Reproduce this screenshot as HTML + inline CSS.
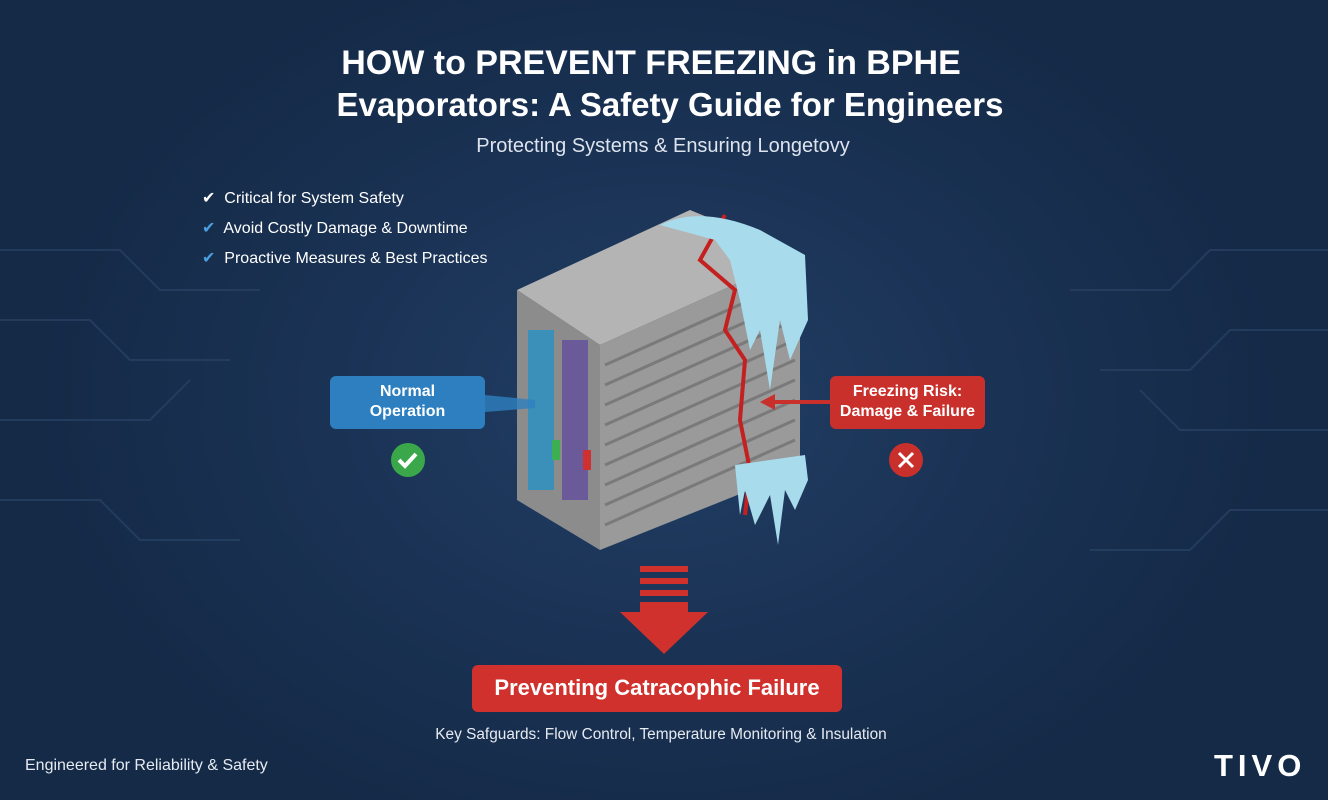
<!DOCTYPE html>
<html><head><meta charset="utf-8"><style>
body{margin:0;width:1328px;height:800px;overflow:hidden;font-family:"Liberation Sans",sans-serif;color:#fff;
background:radial-gradient(ellipse 620px 460px at 660px 400px,#223f66 0%,#1a3254 55%,#142a47 100%);position:relative}
.a{position:absolute;white-space:nowrap}
</style></head><body>
<svg class="a" style="left:0;top:0" width="1328" height="800">
<g stroke="#2a4466" stroke-width="2" fill="none" opacity=".7">
<path d="M0 250 H120 L160 290 H260"/><path d="M0 320 H90 L130 360 H230"/><path d="M0 420 H150 L190 380"/><path d="M0 500 H100 L140 540 H240"/>
<path d="M1328 250 H1210 L1170 290 H1070"/><path d="M1328 330 H1230 L1190 370 H1100"/><path d="M1328 430 H1180 L1140 390"/><path d="M1328 510 H1230 L1190 550 H1090"/>
</g>
<polygon points="600,345 800,255 800,470 600,550" fill="#9a9a9a"/>
<g stroke="#7a7a7a" stroke-width="3">
<line x1="605" y1="365" x2="795" y2="280"/><line x1="605" y1="385" x2="795" y2="300"/><line x1="605" y1="405" x2="795" y2="320"/><line x1="605" y1="425" x2="795" y2="340"/><line x1="605" y1="445" x2="795" y2="360"/><line x1="605" y1="465" x2="795" y2="380"/><line x1="605" y1="485" x2="795" y2="400"/><line x1="605" y1="505" x2="795" y2="420"/><line x1="605" y1="525" x2="795" y2="440"/>
</g>
<polygon points="517,290 690,210 800,255 600,345" fill="#b4b4b4"/>
<polygon points="517,290 600,345 600,550 517,500" fill="#8c8c8c"/>
<rect x="528" y="330" width="26" height="160" fill="#3a90b8"/>
<rect x="562" y="340" width="26" height="160" fill="#6a5a9a"/>
<rect x="552" y="440" width="8" height="20" fill="#3cb050"/><rect x="583" y="450" width="8" height="20" fill="#d03030"/>
<path d="M725 215 L700 260 L735 290 L725 330 L745 360 L740 420 L750 470 L745 515" stroke="#c42020" stroke-width="4" fill="none"/>
<path d="M660 225 Q700 205 760 230 L805 255 L808 320 L790 360 L780 320 L770 390 L760 330 L750 350 L740 300 L730 260 L715 240 Z" fill="#a8dced"/>
<path d="M735 465 L805 455 L808 480 L795 510 L785 490 L778 545 L770 495 L755 525 L745 490 L740 515 Z" fill="#a8dced"/>
<rect x="330" y="376" width="155" height="53" rx="6" fill="#2e7fbf"/>
<polygon points="485,395 535,400 535,408 485,412" fill="#2e7fbf" opacity=".8"/>
<circle cx="408" cy="460" r="17" fill="#3aa84a"/><path d="M399 460 l6 6 l11 -12" stroke="#fff" stroke-width="4" fill="none"/>
<rect x="830" y="376" width="155" height="53" rx="6" fill="#c9302c"/>
<path d="M830 402 H770" stroke="#c9302c" stroke-width="4"/><polygon points="760,402 775,394 775,410" fill="#c9302c"/>
<circle cx="906" cy="460" r="17" fill="#c9302c"/><path d="M899 453 l14 14 M913 453 l-14 14" stroke="#fff" stroke-width="3"/>
<rect x="640" y="566" width="48" height="6" fill="#d0312d"/><rect x="640" y="578" width="48" height="6" fill="#d0312d"/><rect x="640" y="590" width="48" height="6" fill="#d0312d"/>
<polygon points="640,602 688,602 688,612 708,612 664,654 620,612 640,612" fill="#d0312d"/>
<rect x="472" y="665" width="370" height="47" rx="6" fill="#d0312d"/>
</svg>
<div class="a" style="left:0;width:1302px;text-align:center;top:44px;font-size:34px;font-weight:bold">HOW to PREVENT FREEZING in BPHE</div>
<div class="a" style="left:0;width:1340px;text-align:center;top:86px;font-size:33px;font-weight:bold">Evaporators: A Safety Guide for Engineers</div>
<div class="a" style="left:0;width:1326px;text-align:center;top:135px;font-size:20px;color:#dde4ee">Protecting Systems &amp; Ensuring Longetovy</div>
<div class="a" style="left:202px;top:184px;font-size:16px;line-height:30px"><span style="color:#fff">✔</span>&nbsp; Critical for System Safety<br><span style="color:#4aa0e0">✔</span>&nbsp; Avoid Costly Damage &amp; Downtime<br><span style="color:#4aa0e0">✔</span>&nbsp; Proactive Measures &amp; Best Practices</div>
<div class="a" style="left:330px;width:155px;top:382px;text-align:center;font-size:16px;font-weight:bold;line-height:20px">Normal<br>Operation</div>
<div class="a" style="left:830px;width:155px;top:382px;text-align:center;font-size:16px;font-weight:bold;line-height:20px">Freezing Risk:<br>Damage &amp; Failure</div>
<div class="a" style="left:472px;width:370px;top:675px;text-align:center;font-size:22px;font-weight:bold">Preventing Catracophic Failure</div>
<div class="a" style="left:0;width:1322px;top:726px;text-align:center;font-size:15.4px;color:#e6ebf2">Key Safguards: Flow Control, Temperature Monitoring &amp; Insulation</div>
<div class="a" style="left:25px;top:757px;font-size:16px;color:#e6ebf2">Engineered for Reliability &amp; Safety</div>
<div class="a" style="left:1214px;top:748px;font-size:31px;font-weight:bold;letter-spacing:5px">TIVO</div>
</body></html>
